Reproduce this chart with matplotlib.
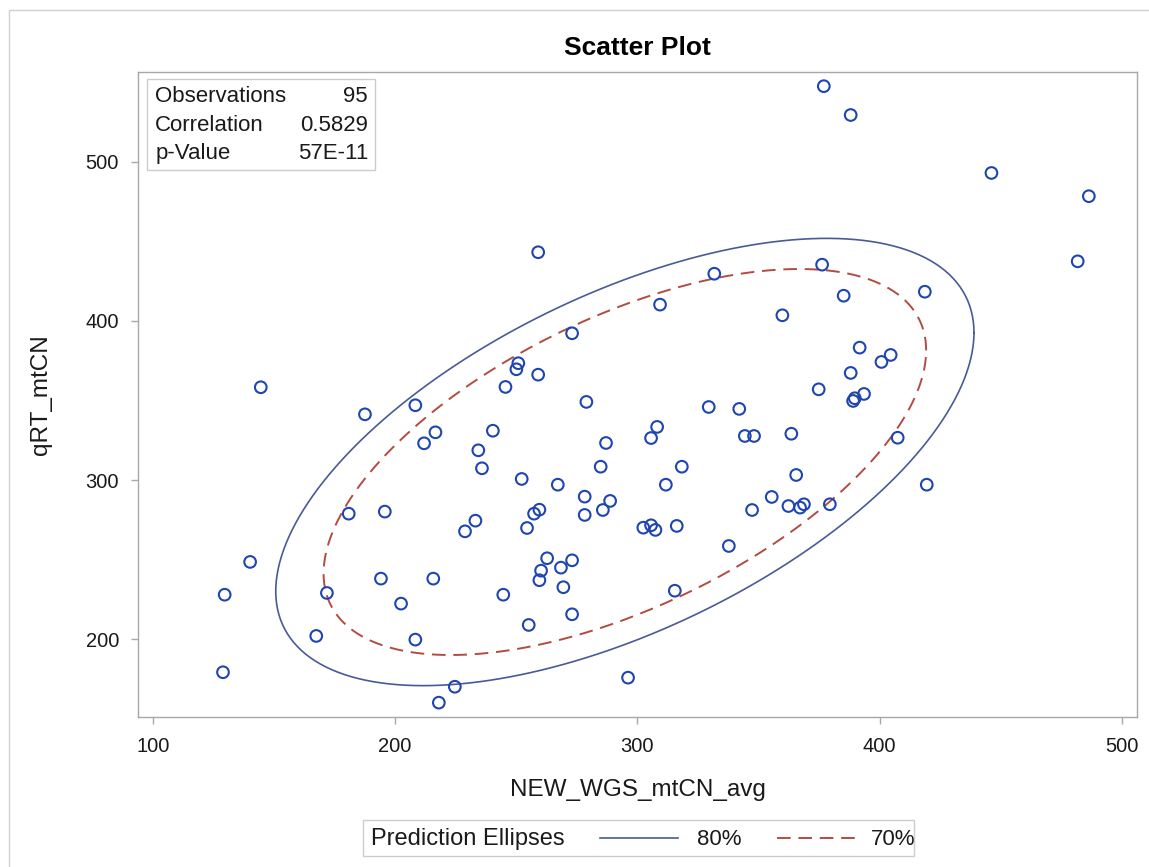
import numpy as np
import matplotlib
matplotlib.use("Agg")
import matplotlib.pyplot as plt
from matplotlib.patches import Rectangle
from matplotlib.lines import Line2D

plt.rcParams['font.family'] = ['Liberation Sans', 'DejaVu Sans']

# ------------------- DATA -------------------
wgs_mtcn = [
    144.6, 187.6, 208.4, 216.7, 212.0, 259.1, 331.8, 309.4, 359.9, 273.1,
    250.9, 250.1, 259.1, 245.6, 279.0, 329.5, 342.1, 240.4, 308.2, 305.7,
    287.1, 344.4, 348.2, 363.6, 234.4, 235.9, 284.9, 318.4, 365.6, 252.3,
    267.2, 311.8, 233.2, 278.3, 288.8, 285.8, 278.3, 259.6, 257.4, 254.5,
    302.5, 305.7, 307.5, 316.3, 347.4, 355.5, 362.4, 337.8, 262.8, 260.3,
    268.5, 273.1, 259.6, 269.5, 244.7, 315.5, 273.1, 255.2, 296.2, 180.9,
    195.8, 228.9, 140.2, 129.7, 194.2, 215.8, 171.9, 202.5, 167.5, 208.4,
    129.0, 224.7, 218.1, 419.5, 367.2, 368.8, 379.5, 377.0, 388.1, 446.2,
    486.4, 481.8, 376.3, 385.2, 418.7, 391.8, 404.6, 400.8, 388.1, 374.9,
    393.6, 389.8, 389.1, 407.5,
]
qrt_mtcn = [
    358.3, 341.3, 347.0, 330.0, 323.1, 443.1, 429.6, 410.2, 403.5, 392.2,
    373.4, 369.6, 366.2, 358.5, 349.1, 345.9, 344.7, 331.0, 333.4, 326.4,
    323.3, 327.7, 327.7, 329.1, 318.7, 307.4, 308.4, 308.4, 303.2, 300.7,
    297.1, 297.1, 274.5, 289.6, 286.9, 281.2, 278.1, 281.4, 278.9, 269.9,
    270.1, 271.6, 268.7, 271.2, 281.2, 289.4, 283.7, 258.6, 250.9, 243.1,
    245.0, 249.6, 237.1, 232.7, 228.0, 230.5, 215.7, 209.0, 175.9, 278.9,
    280.2, 267.8, 248.6, 228.0, 238.1, 238.1, 229.1, 222.4, 202.1, 199.8,
    179.3, 170.2, 160.2, 297.1, 282.7, 284.8, 284.8, 547.4, 529.3, 492.9,
    478.3, 437.4, 435.3, 415.8, 418.3, 383.2, 378.6, 374.2, 367.3, 357.0,
    354.1, 351.4, 349.7, 326.6,
]

stat_labels = ["Observations", "Correlation", "p-Value"]
stat_values = ["95", "0.5829", "57E-11"]

ellipse_levels = [0.80, 0.70]
ellipse_labels = ["80%", "70%"]

x_ticks = [100, 200, 300, 400, 500]
y_ticks = [200, 300, 400, 500]

MARKER_COLOR = '#1f46b0'
COLOR_80 = '#4a5a96'
COLOR_70 = '#b24c42'
FRAME = '#a8a8a8'
TEXT = '#1a1a1a'


def prediction_ellipse(x, y, level, npts=400):
    """Bivariate prediction ellipse for a new observation (same formula SAS uses)."""
    x = np.asarray(x, dtype=float)
    y = np.asarray(y, dtype=float)
    n = len(x)
    mean = np.array([x.mean(), y.mean()])
    cov = np.cov(np.vstack([x, y]))
    m = n - 2
    # quantile of F(2, m) has a closed form
    fq = (m / 2.0) * ((1 - level) ** (-2.0 / m) - 1)
    c2 = 2.0 * (n - 1) * (n + 1) / (n * m) * fq
    L = np.linalg.cholesky(cov)
    t = np.linspace(0, 2 * np.pi, npts)
    circ = np.vstack([np.cos(t), np.sin(t)])
    pts = mean[:, None] + np.sqrt(c2) * (L @ circ)
    return pts[0], pts[1]


fig = plt.figure(figsize=(11.49, 8.67), dpi=100)
ax = fig.add_axes([0.1204, 0.1734, 0.8692, 0.7439])

# ------------------- ELLIPSES -------------------
ex, ey = prediction_ellipse(wgs_mtcn, qrt_mtcn, ellipse_levels[0])
ax.plot(ex, ey, color=COLOR_80, linewidth=1.2, zorder=2)
ex, ey = prediction_ellipse(wgs_mtcn, qrt_mtcn, ellipse_levels[1])
ax.plot(ex, ey, color=COLOR_70, linewidth=1.4, dashes=(7, 4), zorder=2)

# ------------------- POINTS -------------------
ax.scatter(wgs_mtcn, qrt_mtcn, s=70, facecolors='none', edgecolors=MARKER_COLOR,
           linewidths=1.5, zorder=3)

ax.set_xlim(94.06, 506.3)
ax.set_ylim(151.4, 556.5)
ax.set_xticks(x_ticks)
ax.set_yticks(y_ticks)
ax.tick_params(axis='both', direction='out', length=5, width=1, color=FRAME,
               labelsize=14.5, labelcolor=TEXT)
ax.tick_params(axis='x', pad=10)
ax.tick_params(axis='y', pad=9)
for sp in ax.spines.values():
    sp.set_color(FRAME)
    sp.set_linewidth(1)

ax.set_xlabel('NEW_WGS_mtCN_avg', fontsize=17.5, labelpad=16, color=TEXT)
ax.set_ylabel('qRT_mtCN', fontsize=17.5, labelpad=24, color=TEXT)
ax.set_title('Scatter Plot', fontsize=19, fontweight='bold', pad=12, color='black')

# ------------------- STATS INSET -------------------
ax.add_patch(Rectangle((0.0087, 0.8476), 0.2283, 0.1411, transform=ax.transAxes,
                       facecolor='white', edgecolor='#cccccc', linewidth=1, zorder=4))
for i, (lab, val) in enumerate(zip(stat_labels, stat_values)):
    yy = 0.9608 - i * 0.0442
    ax.text(0.0168, yy, lab, transform=ax.transAxes, fontsize=16, va='center',
            ha='left', color=TEXT, zorder=5)
    ax.text(0.230, yy, val, transform=ax.transAxes, fontsize=16, va='center',
            ha='right', color=TEXT, zorder=5)

# ------------------- LEGEND (bottom) -------------------
fig.add_artist(Rectangle((0.316, 0.0127), 0.4795, 0.0415, transform=fig.transFigure,
                         facecolor='white', edgecolor='#cccccc', linewidth=1))
fig.text(0.3229, 0.0320, 'Prediction Ellipses', fontsize=17, va='center', ha='left',
         color=TEXT)
fig.add_artist(Line2D([0.522, 0.590], [0.0334, 0.0334], transform=fig.transFigure,
                      color=COLOR_80, linewidth=1.2))
fig.text(0.6066, 0.0320, ellipse_labels[0], fontsize=16, va='center', ha='left',
         color=TEXT)
fig.add_artist(Line2D([0.676, 0.744], [0.0334, 0.0334], transform=fig.transFigure,
                      color=COLOR_70, linewidth=1.4, dashes=(7, 4)))
fig.text(0.758, 0.0320, ellipse_labels[1], fontsize=16, va='center', ha='left',
         color=TEXT)

# outer graph border
fig.add_artist(Rectangle((0.008, -0.01), 1.1, 0.998, transform=fig.transFigure,
                         facecolor='none', edgecolor='#d0d0d0', linewidth=1))

fig.savefig('out.png', dpi=100)
